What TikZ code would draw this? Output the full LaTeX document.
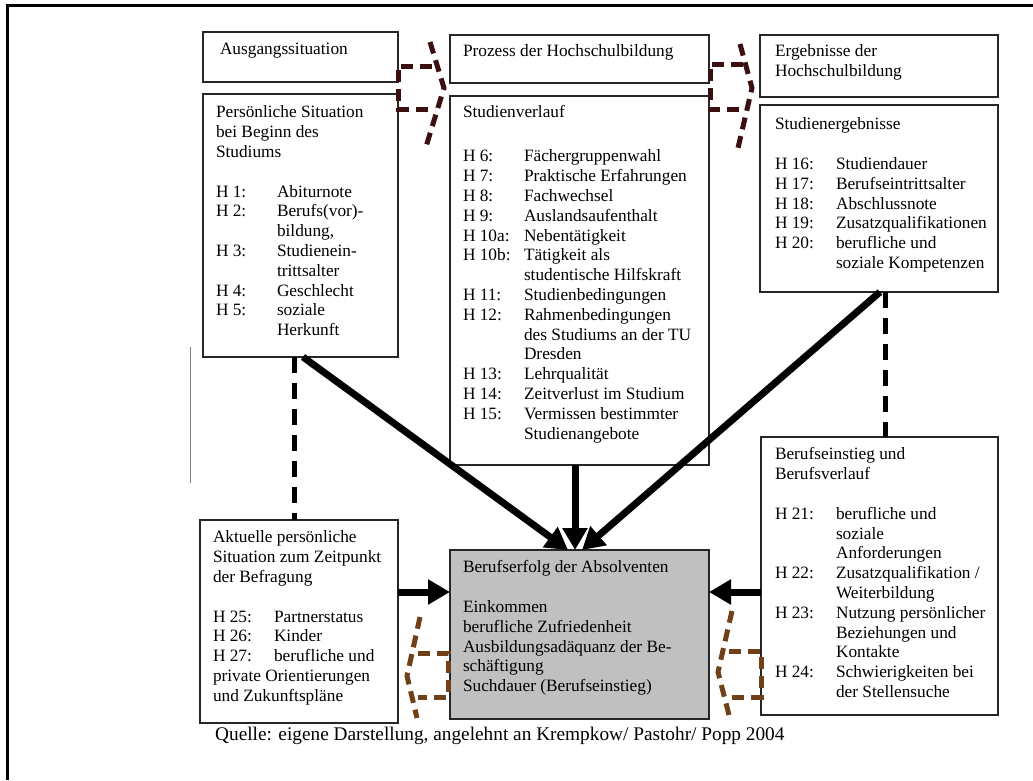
\documentclass[tikz,border=0pt]{standalone}
\usepackage{fontspec}
\setmainfont{Liberation Serif}
\usetikzlibrary{arrows.meta,calc}
\definecolor{greyfill}{RGB}{192,192,192}
\definecolor{maroonc}{RGB}{60,16,16}
\definecolor{brownc}{RGB}{112,64,24}
\newcommand\tb{\fontsize{17.3}{19.8}\selectfont}
\newcommand\hh[1]{\makebox[61pt][l]{#1}}
\newcommand\ii{\hspace*{61pt}}
\begin{document}
\begin{tikzpicture}[x=1pt,y=-1pt,
  box/.style={draw=black!85, line width=1.3pt, inner sep=0pt, outer sep=0pt, anchor=north west},
  txt/.style={inner sep=0pt, outer sep=0pt, anchor=north west, align=left, font=\tb},
  fat/.style={line width=7pt, -{Triangle[length=22pt,width=24pt]}},
  dsh/.style={line width=5pt, dash pattern=on 16pt off 10pt},
  shpT/.style={draw=maroonc, line width=5pt, dash pattern=on 12pt off 7pt},
  shpB/.style={draw=brownc, line width=5pt, dash pattern=on 12pt off 7pt}]
\useasboundingbox (0,0) rectangle (1033,780);
\fill[white] (0,0) rectangle (1033,780);
% frame
\draw[line width=3pt] (1033,5) -- (7,5) -- (7,780);
\draw[gray, line width=0.8pt] (190,347) -- (190,483);
% boxes
\node[box, minimum width=195pt, minimum height=50pt] (aus) at (203,32) {};
\node[box, minimum width=195pt, minimum height=263pt] (pers) at (203,94) {};
\node[box, minimum width=259pt, minimum height=48pt] (proz) at (450,35) {};
\node[box, minimum width=259pt, minimum height=369pt] (stud) at (450,96) {};
\node[box, minimum width=238pt, minimum height=62pt] (erg) at (760,35) {};
\node[box, minimum width=238pt, minimum height=187pt] (serg) at (760,105) {};
\node[box, minimum width=237pt, minimum height=278pt] (beruf) at (761,437) {};
\node[box, minimum width=198pt, minimum height=203pt] (akt) at (200,520) {};
\node[box, fill=greyfill, minimum width=259pt, minimum height=169pt] (grey) at (450,550) {};
% texts
\node[txt] (tAus) at (220,41.1) {\strut Ausgangssituation};
\node[txt] (tProz) at (463,43.1) {\strut Prozess der Hochschulbildung};
\node[txt] (tErg) at (775,43.1) {\strut Ergebnisse der\\Hochschulbildung};
\node[txt] (tPers) at (216,104.1) {\strut Persönliche Situation\\
bei Beginn des\\
Studiums\\[19.8pt]
\hh{H 1:}Abiturnote\\
\hh{H 2:}Berufs(vor)-\\
\ii bildung,\\
\hh{H 3:}Studienein-\\
\ii trittsalter\\
\hh{H 4:}Geschlecht\\
\hh{H 5:}soziale\\
\ii Herkunft};
\node[txt] (tStud) at (463,104.1) {\strut Studienverlauf\\[24.2pt]
\hh{H 6:}Fächergruppenwahl\\
\hh{H 7:}Praktische Erfahrungen\\
\hh{H 8:}Fachwechsel\\
\hh{H 9:}Auslandsaufenthalt\\
\hh{H 10a:}Nebentätigkeit\\
\hh{H 10b:}Tätigkeit als\\
\ii studentische Hilfskraft\\
\hh{H 11:}Studienbedingungen\\
\hh{H 12:}Rahmenbedingungen\\
\ii des Studiums an der TU\\
\ii Dresden\\
\hh{H 13:}Lehrqualität\\
\hh{H 14:}Zeitverlust im Studium\\
\hh{H 15:}Vermissen bestimmter\\
\ii Studienangebote};
\node[txt] (tSerg) at (775,116.1) {\strut Studienergebnisse\\[19.8pt]
\hh{H 16:}Studiendauer\\
\hh{H 17:}Berufseintrittsalter\\
\hh{H 18:}Abschlussnote\\
\hh{H 19:}Zusatzqualifikationen\\
\hh{H 20:}berufliche und\\
\ii soziale Kompetenzen};
\node[txt] (tBeruf) at (775,446.1) {\strut Berufseinstieg und\\
Berufsverlauf\\[19.8pt]
\hh{H 21:}berufliche und\\
\ii soziale\\
\ii Anforderungen\\
\hh{H 22:}Zusatzqualifikation /\\
\ii Weiterbildung\\
\hh{H 23:}Nutzung persönlicher\\
\ii Beziehungen und\\
\ii Kontakte\\
\hh{H 24:}Schwierigkeiten bei\\
\ii der Stellensuche};
\node[txt] (tAkt) at (213,529.1) {\strut Aktuelle persönliche\\
Situation zum Zeitpunkt\\
der Befragung\\[19.8pt]
\hh{H 25:}Partnerstatus\\
\hh{H 26:}Kinder\\
\hh{H 27:}berufliche und\\
private Orientierungen\\
und Zukunftspläne};
\node[txt] (tGrey) at (463,559.1) {\strut Berufserfolg der Absolventen\\[19.8pt]
Einkommen\\
berufliche Zufriedenheit\\
Ausbildungsadäquanz der Be-\\
schäftigung\\
Suchdauer (Berufseinstieg)};
\node[inner sep=0pt, anchor=base west, font=\fontsize{19.3}{22}\selectfont] (cap) at (215,740)
  {Quelle: eigene Darstellung, angelehnt an Krempkow/ Pastohr/ Popp 2004};
% helper coordinates
\coordinate (ly) at (0,592);
\coordinate (dl) at (294,0);
\coordinate (dr) at (885,0);
% dashed black connectors
\draw[dsh] (pers.south -| dl) -- (akt.north -| dl);
\draw[dsh] (serg.south -| dr) -- (beruf.north -| dr);
% thick arrows
\draw[fat] ($(pers.south west)+(100,0)$) -- ($(grey.north west)+(118,0)$);
\draw[fat] ($(stud.south west)+(125,0)$) -- ($(grey.north west)+(125,0)$);
\draw[fat] ($(serg.south west)+(120,0)$) -- ($(grey.north west)+(132,0)$);
\draw[fat] (akt.east |- ly) -- (grey.west |- ly);
\draw[fat] (beruf.west |- ly) -- (grey.east |- ly);
% dashed arrow outlines
\draw[shpT] (432,66) -- (398,66) -- (398,109) -- (435,109);
\draw[shpT] (430,42) -- (444,88) -- (425,150);
\draw[shpT] (743,64) -- (710,64) -- (710,109) -- (745,109);
\draw[shpT] (740,44) -- (752,88) -- (738,148);
\draw[shpB] (418,653) -- (448,653) -- (448,697) -- (418,697);
\draw[shpB] (420,617) -- (407,676) -- (417,718);
\draw[shpB] (729,651) -- (761,651) -- (761,697) -- (729,697);
\draw[shpB] (732,611) -- (718,672) -- (729,715);
\end{tikzpicture}
\end{document}
